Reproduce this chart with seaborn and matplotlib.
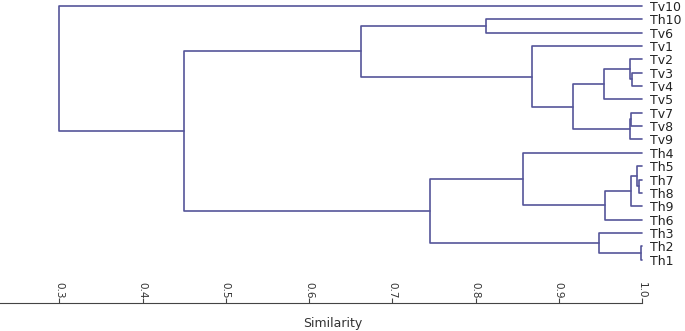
import numpy as np
import pandas as pd
import matplotlib
matplotlib.use("Agg")
import matplotlib.pyplot as plt
import seaborn as sns

# leaf labels, top to bottom as drawn
leaves = ["Tv10", "Th10", "Tv6", "Tv1", "Tv2", "Tv3", "Tv4", "Tv5", "Tv7", "Tv8",
          "Tv9", "Th4", "Th5", "Th7", "Th8", "Th9", "Th6", "Th3", "Th2", "Th1"]

# merges: (name, left child, right child, similarity)
merge_names = ["n0", "n1", "n2", "n3", "n4", "n5", "n6", "n7", "n8", "n9",
               "n10", "n11", "n12", "n13", "n14", "n15", "n16", "n17", "n18"]
merge_left = ["Th2", "Th7", "Th5", "Tv3", "Tv7", "Tv2", "n4", "n2", "n7", "n5",
              "Th3", "n9", "Tv1", "Th4", "Th10", "n13", "n14", "n16", "Tv10"]
merge_right = ["Th1", "Th8", "n1", "Tv4", "Tv8", "n3", "Tv9", "Th9", "Th6", "Tv5",
               "n0", "n6", "n11", "n8", "Tv6", "n10", "n12", "n15", "n17"]
merge_sim = [0.999, 0.996, 0.994, 0.988, 0.987, 0.986, 0.985, 0.987, 0.956, 0.954,
             0.948, 0.917, 0.868, 0.857, 0.813, 0.745, 0.663, 0.450, 0.300]

xticks = [0.3, 0.4, 0.5, 0.6, 0.7, 0.8, 0.9, 1.0]

LINE = "#55559a"
TXT = "#333333"

# node positions: leaves sit at similarity 1.0, nodes at the mean of their children
pos = {name: (1.0, float(i)) for i, name in enumerate(leaves)}
rows = []
for name, a, b, s in zip(merge_names, merge_left, merge_right, merge_sim):
    xa, ya = pos[a]
    xb, yb = pos[b]
    for px, py in [(xa, ya), (s, ya), (s, yb), (xb, yb)]:
        rows.append({"x": px, "y": py, "node": name})
    pos[name] = (s, (ya + yb) / 2)
seg = pd.DataFrame(rows)

sns.set_style("white")
plt.rcParams["font.family"] = ["DejaVu Sans"]

fig = plt.figure(figsize=(6.85, 3.31), dpi=100)
ax = fig.add_axes([0, 28 / 331, 642 / 685, 303 / 331])

sns.lineplot(data=seg, x="x", y="y", units="node", estimator=None, sort=False,
             color=LINE, linewidth=1.2, legend=False, ax=ax)
for ln in ax.lines:
    ln.set_clip_on(False)

ax.set_xlim(0.3 - 59.3 / 833, 1.0)
ax.set_ylim(22.25, -0.45)

# leaf labels on the right
ax.set_yticks(range(len(leaves)))
ax.set_yticklabels(leaves)
ax.yaxis.tick_right()
ax.tick_params(axis="y", length=0, pad=6, labelsize=9, labelcolor="#222222")

# similarity axis, labels sitting above the line
ax.set_xticks(xticks)
ax.set_xticklabels([f"{v:.1f}" for v in xticks])
ax.tick_params(axis="x", direction="in", length=3.5, width=0.8, color="#444444",
               pad=-15, labelrotation=-90, labelsize=7.5, labelcolor=TXT, bottom=True)

for side in ["top", "left", "right"]:
    ax.spines[side].set_visible(False)
ax.spines["bottom"].set_color("#444444")
ax.spines["bottom"].set_linewidth(0.8)

ax.set_ylabel("")
ax.set_xlabel("Similarity", fontsize=9, color=TXT)
ax.xaxis.set_label_coords(333 / 642, -14 / 303)

fig.savefig("out.png", dpi=100)
